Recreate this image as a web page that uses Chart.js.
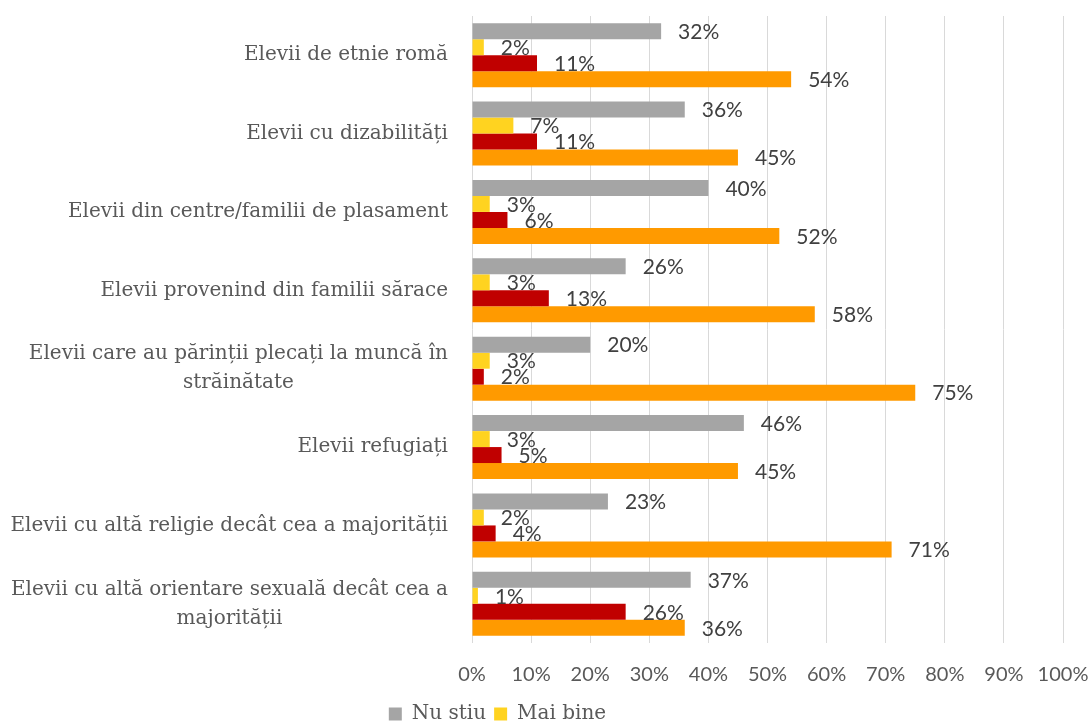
<!DOCTYPE html>
<html>
<head>
<meta charset="utf-8">
<script src="https://cdn.jsdelivr.net/npm/chart.js@4"></script>
<style>
  body { margin: 0; background: #fff; overflow: hidden; }
</style>
</head>
<body>
<canvas id="chart" width="1091" height="724"></canvas>
<script>
const categories = [
    'Elevii de etnie romă',
    'Elevii cu dizabilități',
    'Elevii din centre/familii de plasament',
    'Elevii provenind din familii sărace',
    ['Elevii care au părinții plecați la muncă în', 'străinătate'],
    'Elevii refugiați',
    'Elevii cu altă religie decât cea a majorității',
    ['Elevii cu altă orientare sexuală decât cea a', 'majorității']
];

const nuStiu   = [32, 36, 40, 26, 20, 46, 23, 37];
const maiBine  = [2, 7, 3, 3, 3, 3, 2, 1];
const maiRau   = [11, 11, 6, 13, 2, 5, 4, 26];
const laFel    = [54, 45, 52, 58, 75, 45, 71, 36];

const xTicks = [0, 10, 20, 30, 40, 50, 60, 70, 80, 90, 100];

const textColor = '#595959';
const serif = 'DejaVu Serif';
const sans = 'Lato';

// value labels to the right of each bar
const valueLabels = {
    id: 'valueLabels',
    afterDatasetsDraw(chart) {
        const ctx = chart.ctx;
        ctx.save();
        ctx.font = '21px ' + sans;
        ctx.fillStyle = '#404040';
        ctx.textAlign = 'left';
        ctx.textBaseline = 'middle';
        chart.data.datasets.forEach((ds, di) => {
            chart.getDatasetMeta(di).data.forEach((bar, i) => {
                ctx.fillText(ds.data[i] + '%', bar.x + 17, bar.y + 1);
            });
        });
        ctx.restore();
    }
};

// category labels: block right-aligned, lines centered inside it (like Excel)
const categoryLabels = {
    id: 'categoryLabels',
    afterLayout(chart) {
        const lg = chart.legend;
        lg.top += 10;
        lg.bottom += 10;
        lg.left -= 48;
        lg.right -= 48;
    },
    afterDraw(chart) {
        const ctx = chart.ctx;
        const y = chart.scales.y;
        const right = chart.chartArea.left - 24;
        ctx.save();
        ctx.font = '20px ' + serif;
        ctx.fillStyle = textColor;
        ctx.textAlign = 'center';
        ctx.textBaseline = 'middle';
        categories.forEach((label, i) => {
            const lines = Array.isArray(label) ? label : [label];
            const w = Math.max(...lines.map(l => ctx.measureText(l).width));
            const cy = y.getPixelForValue(i);
            const lh = 29;
            lines.forEach((line, j) => {
                ctx.fillText(line, right - w / 2, cy + (j - (lines.length - 1) / 2) * lh);
            });
        });
        ctx.restore();
    }
};

const ctx = document.getElementById('chart').getContext('2d');
new Chart(ctx, {
    type: 'bar',
    data: {
        labels: categories,
        datasets: [
            { label: 'Nu stiu', data: nuStiu, backgroundColor: '#A5A5A5' },
            { label: 'Mai bine', data: maiBine, backgroundColor: '#FFD320' },
            { label: 'Mai rău', data: maiRau, backgroundColor: '#C00000' },
            { label: 'La fel', data: laFel, backgroundColor: '#FF9A00' }
        ]
    },
    options: {
        indexAxis: 'y',
        responsive: false,
        animation: false,
        layout: { padding: { top: 16, right: 0, left: 0, bottom: 0 } },
        datasets: {
            bar: { categoryPercentage: 0.815, barPercentage: 1.0 }
        },
        plugins: {
            tooltip: { enabled: false },
            legend: {
                position: 'bottom',
                labels: {
                    filter: item => item.datasetIndex < 2,
                    boxWidth: 13,
                    boxHeight: 13,
                    padding: 8,
                    color: textColor,
                    font: { family: serif, size: 20 }
                }
            }
        },
        scales: {
            x: {
                min: 0,
                max: 100,
                afterBuildTicks: scale => { scale.ticks = xTicks.map(v => ({ value: v })); },
                afterFit: scale => {
                    scale.height = 43;
                    scale.paddingLeft = 0;
                    scale.paddingRight = 28;
                },
                ticks: {
                    callback: v => v + '%',
                    color: textColor,
                    padding: 20,
                    font: { family: sans, size: 20 }
                },
                grid: { color: '#D9D9D9', drawTicks: false },
                border: { display: false }
            },
            y: {
                afterFit: scale => { scale.width = 472; },
                ticks: { display: false },
                grid: { display: false },
                border: { display: false }
            }
        }
    },
    plugins: [valueLabels, categoryLabels]
});
</script>
</body>
</html>
